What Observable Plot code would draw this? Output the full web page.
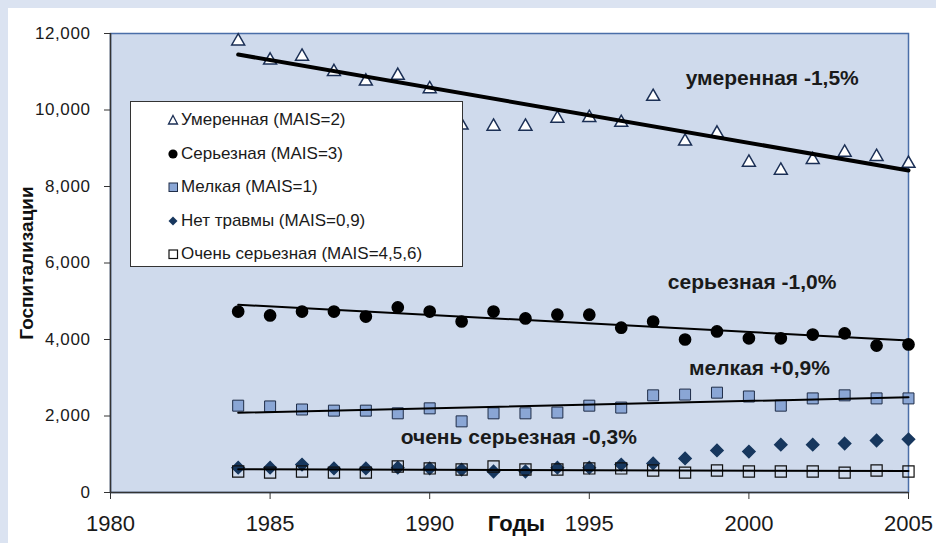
<!DOCTYPE html>
<html><head><meta charset="utf-8">
<script src="https://cdn.jsdelivr.net/npm/d3@7"></script>
<script src="https://cdn.jsdelivr.net/npm/@observablehq/plot@0.6"></script>
<style>
body{margin:0;background:#dbe3f1;font-family:"Liberation Sans",Arial,sans-serif;}
#wrap{position:relative;width:936px;height:543px;overflow:hidden}
#panel{position:absolute;left:8px;top:8px;width:928px;height:535px;background:#fff}
#chart{position:absolute;left:0;top:0}
#legend{position:absolute;left:130px;top:101px;width:333px;height:166px;background:#fff;border:1px solid #333;box-sizing:border-box}
.row{position:absolute;left:36px;height:20px;display:flex;align-items:center;font-size:17px;color:#1a1a1a;white-space:nowrap}
.row svg{margin-right:2px}
g[aria-label="annot"] text{letter-spacing:0.5px}
g[aria-label="y-axis tick label"] text{letter-spacing:0.6px}
g[aria-label="xtitle"] text{letter-spacing:1px}
</style></head>
<body>
<div id="wrap"><div id="panel"></div><div id="chart"></div><div id="legend"></div></div>
<script>
const years = [1984,1985,1986,1987,1988,1989,1990,1991,1992,1993,1994,1995,1996,1997,1998,1999,2000,2001,2002,2003,2004,2005];
const moderate = [11800,11300,11400,11000,10750,10900,10550,9600,9570,9570,9780,9800,9670,10350,9180,9390,8630,8420,8700,8890,8780,8600];
const serious  = [4730,4630,4730,4730,4600,4840,4730,4470,4730,4550,4650,4650,4310,4470,4000,4210,4030,4030,4130,4160,3840,3870];
const minor    = [2270,2250,2170,2140,2140,2070,2200,1860,2070,2070,2090,2270,2220,2540,2560,2610,2510,2270,2460,2540,2460,2460];
const noInjury = [650,650,730,630,630,650,630,600,550,550,650,650,730,760,890,1100,1070,1250,1250,1280,1360,1390];
const critical = [550,520,550,520,520,680,630,600,680,600,600,630,630,575,520,575,550,550,550,520,575,550];

const trendYears = [1984, 2005];
const trendModerate = [11450, 8420];
const trendSerious = [4910, 3975];
const trendMinor = [2085, 2490];
const trendCritical = [608, 560];

const legendLabels = ["Умеренная (MAIS=2)","Серьезная (MAIS=3)","Мелкая (MAIS=1)","Нет травмы (MAIS=0,9)","Очень серьезная (MAIS=4,5,6)"];
const annotations = [
  {year: 2000.73, value: 10830, text: "умеренная -1,5%"},
  {year: 2000.1, value: 5500, text: "серьезная -1,0%"},
  {year: 2000.33, value: 3240, text: "мелкая +0,9%"},
  {year: 1992.79, value: 1440, text: "очень серьезная -0,3%"}
];
const xTicks = [1980,1985,1990,1995,2000,2005];
const yTicks = [0,2000,4000,6000,8000,10000,12000];

const navy = "#1b2f55";
const ser = (arr) => (d,i) => arr[i];

const chart = Plot.plot({
  width: 936, height: 543,
  marginLeft: 110, marginRight: 28, marginTop: 33, marginBottom: 51,
  style: {background: "transparent", fontFamily: "Liberation Sans, Arial, sans-serif", color: "#1a1a1a", overflow: "visible"},
  x: {domain: [1980, 2005]},
  y: {domain: [0, 12000]},
  marks: [
    Plot.frame({fill: "#cfdaec", stroke: "#4a6ea8", strokeWidth: 1.5}),
    Plot.axisY({ticks: yTicks, tickFormat: d3.format(","), tickSize: 6, tickPadding: 14, fontSize: 17, label: null, stroke: "#333"}),
    Plot.axisX({ticks: xTicks, tickFormat: d => String(d), tickSize: 7, tickPadding: 16, fontSize: 22, label: null, stroke: "#333"}),
    Plot.ruleX([1980], {stroke: "#333", strokeWidth: 1.5}),
    Plot.ruleY([0], {stroke: "#333", strokeWidth: 1.5}),
    Plot.dot(years, {x: d => d, y: ser(moderate), symbol: "triangle", r: 4.8, fill: "white", stroke: navy, strokeWidth: 1.5}),
    Plot.dot(years, {x: d => d, y: ser(serious), symbol: "circle", r: 5.6, fill: "black", stroke: "black"}),
    Plot.dot(years, {x: d => d, y: ser(minor), symbol: "square", r: 6.2, fill: "#8aa6d5", stroke: "#1f2d48", strokeWidth: 1}),
    Plot.dot(years, {x: d => d, y: ser(noInjury), symbol: "diamond2", r: 5.5, fill: "#17375e", stroke: "#17375e"}),
    Plot.dot(years, {x: d => d, y: ser(critical), symbol: "square", r: 6.3, fill: "none", stroke: "#111", strokeWidth: 1.2}),
    Plot.line(trendYears, {x: d => d, y: ser(trendModerate), stroke: "black", strokeWidth: 4}),
    Plot.line(trendYears, {x: d => d, y: ser(trendSerious), stroke: "black", strokeWidth: 2}),
    Plot.line(trendYears, {x: d => d, y: ser(trendMinor), stroke: "black", strokeWidth: 2}),
    Plot.line(trendYears, {x: d => d, y: ser(trendCritical), stroke: "black", strokeWidth: 2}),
    Plot.text(annotations, {x: "year", y: "value", text: "text", fontSize: 21, fontWeight: "bold", fill: "#1a1a1a", ariaLabel: "annot"}),
    Plot.text(["Госпитализации"], {frameAnchor: "left", textAnchor: "middle", dx: -84, rotate: -90, fontSize: 19, fontWeight: "bold", fill: "#111"}),
    Plot.text(["Годы"], {frameAnchor: "bottom", textAnchor: "middle", dx: 7, dy: 38, fontSize: 22, fontWeight: "bold", fill: "#111", ariaLabel: "xtitle"})
  ]
});
document.getElementById("chart").appendChild(chart);

const markers = [
  '<polygon points="6,1.5 10.5,10 1.5,10" fill="white" stroke="'+navy+'" stroke-width="1.3"/>',
  '<circle cx="6" cy="6" r="4.6" fill="black"/>',
  '<rect x="2" y="2" width="8.5" height="8.5" fill="#8aa6d5" stroke="#1f2d48" stroke-width="1"/>',
  '<polygon points="6,1.5 10.5,6 6,10.5 1.5,6" fill="#17375e"/>',
  '<rect x="2" y="2" width="8.5" height="8.5" fill="white" stroke="#111" stroke-width="1.2"/>'
];
const rowTops = [18, 52, 85, 119, 152];
const legend = document.getElementById("legend");
legendLabels.forEach((lab, i) => {
  const r = document.createElement("div");
  r.className = "row";
  r.style.top = (rowTops[i] - 10) + "px";
  r.innerHTML = '<svg width="12" height="12">' + markers[i] + '</svg><span>' + lab + '</span>';
  legend.appendChild(r);
});
</script>
</body></html>
